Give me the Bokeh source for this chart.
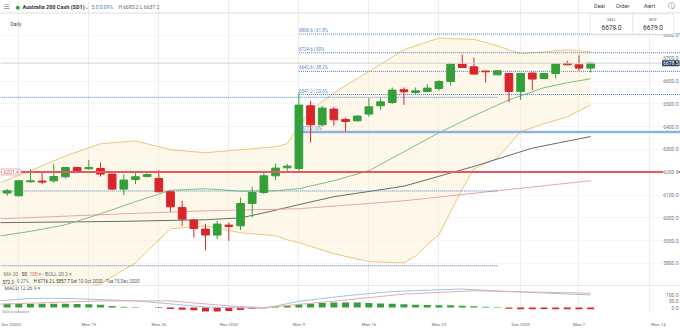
from bokeh.plotting import figure
from bokeh.models import (Range1d, LinearAxis, FixedTicker, Span, Label,
                          Grid, ColumnDataSource, BoxAnnotation)
from bokeh.layouts import column
from bokeh.embed import file_html
from bokeh.resources import INLINE

# ---------------- data ----------------
# trading sessions, Sun 11 Oct 2020 (0) ... Tue 8 Dec 2020 (50); six sessions per week (Sun-Fri)
session = list(range(51))
opens = [6108.8, 6096.9, 6158.3, 6161.4, 6162.7, 6180.3, 6221.0, 6215.4, 6216.7, 6192.1,
         6126.3, 6168.4, 6181.6, 6172.8, 6114.5, 6045.6, 5990.3, 5950.9, 5924.6, 5968.4,
         5965.4, 6063.2, 6111.4, 6184.6, 6219.7, 6216.7, 6491.7, 6408.3, 6477.2, 6431.6,
         6425.9, 6455.3, 6491.7, 6506.1, 6561.8, 6550.0, 6554.4, 6567.5, 6598.2, 6674.6,
         6662.7, 6643.9, 6627.6, 6633.3, 6554.4, 6635.1, 6611.4, 6633.3, 6677.2, 6671.5, 6657.0]
highs = [6127.6, 6165.8, 6214.0, 6199.0, 6237.3, 6224.1, 6224.1, 6254.8, 6243.0, 6194.7,
         6192.1, 6199.0, 6194.7, 6209.6, 6116.7, 6075.0, 5994.7, 5974.1, 5987.3, 5979.8,
         6089.5, 6136.4, 6199.0, 6238.6, 6237.3, 6550.0, 6513.6, 6491.7, 6487.3, 6440.3,
         6450.9, 6525.4, 6525.4, 6571.9, 6571.9, 6571.9, 6586.8, 6604.4, 6677.2, 6716.2,
         6703.5, 6645.0, 6648.2, 6636.4, 6636.4, 6637.7, 6635.1, 6677.2, 6689.0, 6714.0, 6683.2]
lows = [6096.9, 6093.9, 6155.3, 6148.2, 6154.0, 6172.8, 6199.0, 6211.0, 6181.6, 6121.9,
        6100.0, 6148.2, 6177.2, 6111.4, 6026.7, 5965.4, 5914.0, 5857.7, 5907.0, 5899.5,
        5946.5, 6001.7, 6104.4, 6165.8, 6206.6, 6206.6, 6330.7, 6399.6, 6404.0, 6379.0,
        6422.8, 6443.4, 6472.8, 6499.1, 6496.0, 6543.0, 6550.0, 6557.5, 6579.4, 6657.0,
        6629.0, 6593.9, 6626.0, 6506.1, 6516.7, 6560.5, 6608.8, 6611.4, 6670.0, 6645.2, 6637.2]
closes = [6118.9, 6162.7, 6162.7, 6157.0, 6181.6, 6221.0, 6202.2, 6221.0, 6192.1, 6126.3,
          6165.8, 6180.3, 6190.3, 6114.5, 6048.7, 5994.7, 5953.5, 5925.0, 5972.8, 5962.3,
          6063.2, 6111.4, 6184.6, 6218.4, 6227.2, 6494.7, 6408.3, 6481.6, 6430.3, 6422.8,
          6446.5, 6487.3, 6509.2, 6560.5, 6553.1, 6557.5, 6569.3, 6598.2, 6674.6, 6659.6,
          6630.7, 6640.8, 6645.2, 6554.4, 6633.3, 6608.8, 6633.3, 6674.6, 6671.5, 6657.0, 6678.5]

# moving averages and Bollinger bands (read at selected sessions)
ma20_at = [-0.6, 2, 5, 8, 11, 14, 17, 20, 23, 25, 28, 31, 34, 37, 40, 43, 46, 48, 50]
ma20 = [5921, 5941, 5970, 6018, 6071, 6121, 6128, 6117, 6119, 6128, 6163, 6207, 6290, 6373,
        6448, 6518, 6571, 6593, 6610]
upper_at = [-0.6, 2, 5, 8, 11, 14, 17, 20, 23, 24, 25, 26, 28, 31, 34, 37, 40, 42, 43, 44, 46, 48, 50]
boll_upper = [6154, 6207, 6272, 6325, 6338, 6299, 6286, 6299, 6312, 6325, 6404, 6470, 6549, 6642,
              6738, 6788, 6783, 6755, 6737, 6720, 6728, 6737, 6728]
lower_at = [-0.6, 2, 5, 8, 11, 14, 17, 20, 23, 24, 25, 26, 28, 31, 34, 35, 36, 37, 38, 39, 40,
            42, 43, 44, 46, 48, 50]
boll_lower = [5689, 5676, 5667, 5711, 5803, 5952, 5965, 5935, 5922, 5904, 5892, 5875, 5843, 5808,
              5803, 5833, 5882, 5926, 6026, 6127, 6215, 6262, 6320, 6378, 6413, 6443, 6496]
ma50_at = [-0.6, 10, 17, 25, 34, 42, 50]
ma50 = [5996, 6018, 6031, 6040, 6075, 6119, 6163]
ma100_at = [-0.6, 10, 17, 20, 22, 25, 28, 34, 40, 45, 50]
ma100 = [5979, 5985, 5992, 6000, 6022, 6058, 6093, 6139, 6226, 6306, 6357]

# Fibonacci retracement drawn from session 25
fib_start = 25
fib_levels = [6806.6, 6724.6, 6642.6, 6541.2]
fib_texts = ["6806.6 | 61.8%", "6724.6 | 50%", "6642.6 | 38.2%", "6541.2 | 23.6%"]
fib_zero = 6377.2
fib_zero_text = "6377.2 | 0%"
# older dotted levels ending at session 42
old_levels = [6529.0, 6118.0, 5790.0]
old_end = 42
support_level = 6201.4
last_price = 6678.5

# MACD panel
macd_at = [-0.6, 2, 5, 11, 17, 22, 25, 29, 33, 39, 43, 50]
macd_line = [53, 73, 73, 53, 5, -7, 50, 93, 127, 147, 127, 100]
signal_at = [-0.6, 8, 14, 19, 22, 25, 29, 34, 40, 43, 50]
signal_line = [27, 53, 53, 13, 0, 25, 60, 107, 133, 127, 113]
hist = [31, 31, 31, 31, 31, 30, 29, 27, 22, 13, 7, 4, 0, -4, -11, -18, -22, -31, -31, -27,
        -20, -11, 0, 9, 13, 27, 31, 36, 40, 40, 40, 36, 33, 31, 27, 22, 20, 18, 18, 15,
        11, 7, 4, -9, -13, -13, -12, -13, -13, -13, -13]

price_ticks = [5800, 5900, 6000, 6100, 6200, 6300, 6400, 6500, 6600, 6700, 6800]
macd_ticks = [0, 50, 100]
date_ticks = [0.25, 1.1, 7, 13, 19, 25, 31, 37, 44, 49, 55.8]
date_labels = ["Oct 2020", "2", "Mon 19", "Mon 26", "Nov 2020", "Mon 9", "Mon 16", "Mon 23",
               "Dec 2020", "Mon 7", "Mon 14"]
grid_sessions = [1, 7, 13, 19, 25, 31, 37, 44, 49, 55]

# ---------------- styling ----------------
FONT = "Roboto"
GREEN = "#34a03b"
RED = "#d9262b"
FIB = "#4f80c0"
H_MAIN = 286
W = 680
AXIS_X = 678  # right edge of the price-scale texts

xr = Range1d(-0.566, -0.566 + W / 11.671)
p = figure(width=W, height=H_MAIN, x_range=xr, y_range=Range1d(5699.1, 6953.5),
           output_backend="svg", toolbar_location=None, x_axis_location=None,
           y_axis_location=None, min_border_left=0, min_border_right=0,
           min_border_top=0, min_border_bottom=0)
p.outline_line_color = None
p.grid.grid_line_color = None
p.background_fill_color = "white"
p.border_fill_color = "white"

p.add_layout(Grid(dimension=0, ticker=FixedTicker(ticks=grid_sessions), grid_line_color="#ececec"))
p.add_layout(Grid(dimension=1, ticker=FixedTicker(ticks=price_ticks), grid_line_color="#f5f5f5"))

# Bollinger band fill and lines
p.patch(x=upper_at + lower_at[::-1], y=boll_upper + boll_lower[::-1],
        fill_color="#fdf1d8", fill_alpha=0.5, line_color=None)
p.line(upper_at, boll_upper, line_color="#f2c27a", line_width=1)
p.line(lower_at, boll_lower, line_color="#f2c27a", line_width=1)
p.line(ma100_at, ma100, line_color="#6b6b6b", line_width=1)
p.line(ma50_at, ma50, line_color="#eaa3aa", line_width=1)
p.line(ma20_at, ma20, line_color="#7cc07c", line_width=1)

# horizontal levels
for lv in old_levels:
    p.ray(x=[old_end], y=[lv], length=0, angle=3.14159265, line_color=FIB, line_width=1,
          line_dash="1 1")
for lv in fib_levels:
    p.ray(x=[fib_start], y=[lv], length=0, angle=0, line_color=FIB, line_width=1, line_dash="1 1")
p.ray(x=[fib_start], y=[fib_zero], length=0, angle=0, line_color="#8db3dc", line_width=2.5)
p.add_layout(Span(location=support_level, dimension="width", line_color="#e8585c", line_width=2))
p.add_layout(Span(location=last_price, dimension="width", line_color="#d3d3d3", line_width=1))

for lv, t in zip(fib_levels + [fib_zero], fib_texts + [fib_zero_text]):
    p.add_layout(Label(x=fib_start, y=lv, text=t, text_font=FONT, text_font_size="4.5px",
                       text_color="#5b86c0", text_baseline="bottom", y_offset=1))

# candles
cols = [GREEN if c >= o else RED for o, c in zip(opens, closes)]
src = ColumnDataSource(dict(x=session, o=opens, h=highs, l=lows, c=closes,
                            top=[max(o, c) for o, c in zip(opens, closes)],
                            bot=[min(o, c) for o, c in zip(opens, closes)], col=cols))
p.segment(x0="x", y0="h", x1="x", y1="l", line_color="col", line_width=1, source=src)
p.vbar(x="x", width=0.66, top="top", bottom="bot", fill_color="col", line_color="col",
       line_width=1, source=src)


def lab(fig, x, y, text, size="5px", color="#444444", bold=False, align="left", font=FONT, **kw):
    fig.add_layout(Label(x=x, y=y, x_units="screen", y_units="screen", text=text,
                         text_font=font, text_font_size=size, text_color=color,
                         text_font_style="bold" if bold else "normal", text_align=align,
                         text_baseline="middle", **kw))


def sy(ypx):
    return H_MAIN - ypx


# price scale (texts placed on the price scale of the chart)
for t in price_ticks:
    p.add_layout(Label(x=AXIS_X, x_units="screen", y=t, text="%.1f" % t, text_font=FONT,
                       text_font_size="5px", text_color="#777777", text_align="right",
                       text_baseline="middle", background_fill_color="white"))

# header
p.add_layout(Span(location=sy(12.5), location_units="screen", dimension="width",
                  line_color="#dddddd", line_width=1))
lab(p, 3, sy(6), "\u2630", size="7px", color="#888888", font="DejaVu Sans")
lab(p, 15, sy(6), "\u25cf", size="5px", color="#2ea043", font="DejaVu Sans")
lab(p, 22, sy(6), "Australia 200 Cash (SD1)", size="5.5px", color="#333333", bold=True)
lab(p, 84, sy(5.5), "\u2304", size="6px", color="#888888", font="DejaVu Sans")
lab(p, 91, sy(6), "5.0  0.09%", size="5px", color="#3d7cc9")
lab(p, 118, sy(6), "H 6683.2  L 6637.2", size="5px", color="#666666")
lab(p, 599, sy(5), "Deal", size="5.5px", align="center")
lab(p, 622, sy(5), "Order", size="5.5px", align="center")
lab(p, 649, sy(5), "Alert", size="5.5px", align="center")
lab(p, 671, sy(5), "\u24d8", size="7px", align="center", font="DejaVu Sans", color="#666666")
lab(p, 10, sy(23), "Daily", size="5px")

# sell / buy boxes
for l, r, head, px in [(590, 632, "SELL", "6678.0"), (632, 673, "BUY", "6679.0")]:
    p.add_layout(BoxAnnotation(left=l, right=r, top=sy(13.5), bottom=sy(33.5), left_units="screen",
                               right_units="screen", top_units="screen", bottom_units="screen",
                               fill_color="white", fill_alpha=1, line_color="#cccccc", line_width=1))
    lab(p, (l + r) / 2, sy(18.5), head, size="4px", color="#666666", align="center")
    lab(p, (l + r) / 2, sy(26.5), px, size="6.5px", color="#333333", align="center")

# price tags
p.add_layout(Label(x=AXIS_X + 1, x_units="screen", y=last_price, text="6678.5", text_font=FONT,
                   text_font_size="5px", text_color="white", background_fill_color="#27405f",
                   text_align="right", text_baseline="middle", padding=(1, 1)))
p.add_layout(Label(x=1, x_units="screen", y=support_level, text="6201.4", text_font=FONT,
                   text_font_size="5px", text_color="#d65a5a", background_fill_color="white",
                   border_line_color="#f0b0b0", text_baseline="middle", padding=(2, 1)))

# MA / BOLL legend rows
lab(p, 3, sy(273.5), "MA  20", size="5px", color="#777777")
lab(p, 21, sy(273.5), "50", size="5px", color="#333333")
lab(p, 29, sy(273.5), "100", size="5px", color="#e06070")
lab(p, 38, sy(273.5), "\u00d7   -  BOLL  20  2  \u00d7", size="5px", color="#666666")
lab(p, 2, sy(281), "572.3", size="4.5px", color="#333333")
lab(p, 15, sy(281), "-9.27%", size="4.5px", color="#3d7cc9")
lab(p, 33, sy(281), "H 6716.2", size="4.5px", color="#333333")
lab(p, 52, sy(281), "L 5857.7", size="4.5px", color="#333333")
lab(p, 70, sy(281), "Sat 10 Oct 2020 - Tue 15 Dec 2020", size="4.5px", color="#555555")
p.add_layout(Span(location=0.5, location_units="screen", dimension="width",
                  line_color="#d0d0d0", line_width=1))

# ---------------- MACD panel ----------------
H_M = 32
m = figure(width=W, height=H_M + 11, x_range=xr, y_range=Range1d(-46.7, 166.7),
           output_backend="svg", toolbar_location=None, x_axis_location=None,
           y_axis_location=None, min_border_left=0, min_border_right=0,
           min_border_top=0, min_border_bottom=11)
m.outline_line_color = None
m.grid.grid_line_color = None
m.add_layout(Grid(dimension=0, ticker=FixedTicker(ticks=grid_sessions), grid_line_color="#ececec"))
xax = LinearAxis(ticker=FixedTicker(ticks=date_ticks),
                 major_label_overrides={t: s for t, s in zip(date_ticks, date_labels)},
                 major_tick_line_color=None, minor_tick_line_color=None, axis_line_color=None,
                 major_label_standoff=2, major_label_text_font_size="4.3px",
                 major_label_text_color="#666666", major_label_text_font=FONT)
m.add_layout(xax, "below")

hcols = [GREEN if v >= 0 else RED for v in hist]
m.vbar(x=session, width=0.6, top=[max(v, 0) for v in hist], bottom=[min(v, 0) for v in hist],
       fill_color=hcols, line_color=None)
m.line(macd_at, macd_line, line_color="#9ec3e6", line_width=1)
m.line(signal_at, signal_line, line_color="#eba8a8", line_width=1)

for t in macd_ticks:
    m.add_layout(Label(x=AXIS_X, x_units="screen", y=t, text="%.1f" % t, text_font=FONT,
                       text_font_size="5px", text_color="#777777", text_align="right",
                       text_baseline="middle"))

lab(m, 4, H_M - 6, "MACD  12  26  9  \u00d7", size="5px", color="#555555")
lab(m, 2, 1.5, "Data is indicative", size="3.5px", color="#888888")

layout = column(p, m, spacing=0)
open("out.html", "w").write(file_html(layout, INLINE))
